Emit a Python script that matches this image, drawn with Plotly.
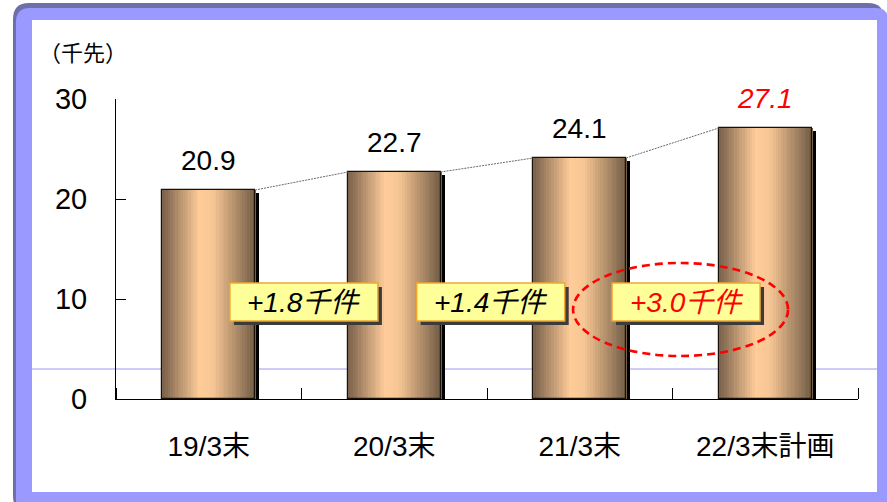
import plotly.graph_objects as go

# Data
categories = ["19/3末", "20/3末", "21/3末", "22/3末計画"]
values = [20.9, 22.7, 24.1, 27.1]
y_ticks = [0, 10, 20, 30]
unit_label = "（千先）"
diff_unit = "千件"

W, H = 887, 502
ML, MR, MT, MB = 116, 29, 99, 103
PW, PH = W - ML - MR, H - MT - MB

FONT = "Liberation Sans, Arial, Noto Sans CJK JP, sans-serif"
BAR_W = 0.5


def px_x(px):
    return (px - ML) / PW


def px_y(py):
    return (H - MB - py) / PH


def rounded_path(x0, y0, x1, y1, r):
    """Rounded rectangle in pixel coordinates -> SVG path in paper units."""
    def P(x, y):
        return f"{px_x(x):.5f},{px_y(y):.5f}"
    pts = [
        f"M {P(x0 + r, y0)}",
        f"L {P(x1 - r, y0)}",
        f"Q {P(x1, y0)} {P(x1, y0 + r)}",
        f"L {P(x1, y1 - r)}",
        f"Q {P(x1, y1)} {P(x1 - r, y1)}",
        f"L {P(x0 + r, y1)}",
        f"Q {P(x0, y1)} {P(x0, y1 - r)}",
        f"L {P(x0, y0 + r)}",
        f"Q {P(x0, y0)} {P(x0 + r, y0)} Z",
    ]
    return " ".join(pts)


def lerp_color(stops, t):
    for (t0, c0), (t1, c1) in zip(stops, stops[1:]):
        if t0 <= t <= t1:
            f = (t - t0) / (t1 - t0)
            c = [round(a + (b - a) * f) for a, b in zip(c0, c1)]
            return f"rgb({c[0]},{c[1]},{c[2]})"
    c = stops[-1][1]
    return f"rgb({c[0]},{c[1]},{c[2]})"


cyl_stops = [
    (0.0, (0x78, 0x60, 0x4A)),
    (0.40, (0xFF, 0xCC, 0x99)),
    (0.55, (0xF6, 0xC6, 0x94)),
    (1.0, (0x72, 0x5C, 0x45)),
]

x_pos = list(range(len(categories)))
fig = go.Figure()

# drop shadow of each cylinder (offset right / down)
sh_dx = 4 / (PW / len(categories))
sh_dy = 2.5 / (PH / 30)
fig.add_trace(go.Bar(
    x=x_pos, y=[v - sh_dy for v in values],
    width=BAR_W, offset=-BAR_W / 2 + sh_dx,
    marker=dict(color="black", line=dict(width=0)),
    hoverinfo="skip", showlegend=False,
))

# cylinder shading built from thin vertical strips
N = 36
sw = BAR_W / N
for k in range(N):
    t = (k + 0.5) / N
    fig.add_trace(go.Bar(
        x=x_pos, y=values,
        width=sw * 1.35, offset=-BAR_W / 2 + k * sw,
        marker=dict(color=lerp_color(cyl_stops, t), line=dict(width=0)),
        hoverinfo="skip", showlegend=False,
    ))

# outline
fig.add_trace(go.Bar(
    x=x_pos, y=values, width=BAR_W, offset=-BAR_W / 2,
    marker=dict(color="rgba(0,0,0,0)", line=dict(color="#1a1208", width=1.2)),
    hoverinfo="skip", showlegend=False,
))

# dotted connectors between bar tops
for i in range(len(values) - 1):
    fig.add_trace(go.Scatter(
        x=[x_pos[i] + BAR_W / 2, x_pos[i + 1] - BAR_W / 2],
        y=[values[i], values[i + 1]],
        mode="lines",
        line=dict(color="#6a6a6a", width=1, dash="2px,1px"),
        hoverinfo="skip", showlegend=False,
    ))

shapes = [
    # frame: dark rim, lavender band, white panel
    dict(type="path", xref="paper", yref="paper", layer="below",
         path=rounded_path(13, 3, 884, 512, 16),
         fillcolor="#6E6EA8", line=dict(width=0)),
    dict(type="path", xref="paper", yref="paper", layer="below",
         path=rounded_path(16, 8, 889, 514, 14),
         fillcolor="#9999FF", line=dict(width=0)),
    dict(type="rect", xref="paper", yref="paper", layer="below",
         x0=px_x(32), x1=px_x(877), y0=px_y(492), y1=px_y(20),
         fillcolor="white", line=dict(width=0)),
    dict(type="line", xref="paper", yref="paper", layer="below",
         x0=px_x(32), x1=px_x(877), y0=px_y(369), y1=px_y(369),
         line=dict(color="#9A9AF0", width=1)),
    # red dashed ellipse around the plan increment
    dict(type="circle", xref="x", yref="y", layer="above",
         x0=1.964, x1=3.123, y0=4.3, y1=13.6,
         line=dict(color="#FF0000", width=2.6, dash="8px,5px")),
]

annotations = []

# value labels above bars
for i, v in enumerate(values):
    last = i == len(values) - 1
    annotations.append(dict(
        x=x_pos[i], y=v, xref="x", yref="y", yshift=30,
        xanchor="center", yanchor="middle",
        text=f"<i>{v:.1f}</i>" if last else f"{v:.1f}",
        showarrow=False,
        font=dict(family=FONT, size=28, color="#FF0000" if last else "black"),
    ))

# increment boxes between bars
box_x = [0.513, 1.52, 2.573]
box_y = 9.7
for i in range(len(values) - 1):
    diff = values[i + 1] - values[i]
    red = i == len(values) - 2
    shapes.append(dict(
        type="rect", xref="x", yref="y", layer="above",
        xsizemode="pixel", ysizemode="pixel",
        xanchor=box_x[i], yanchor=box_y,
        x0=-74 + 4, x1=74 + 4, y0=-19 - 4, y1=19 - 4,
        fillcolor="#3c3c3c", line=dict(width=0)))
    shapes.append(dict(
        type="rect", xref="x", yref="y", layer="above",
        xsizemode="pixel", ysizemode="pixel",
        xanchor=box_x[i], yanchor=box_y,
        x0=-74, x1=74, y0=-19, y1=19,
        fillcolor="#FFFF99", line=dict(color="#F0A830", width=1.5)))
    annotations.append(dict(
        x=box_x[i], y=box_y, xref="x", yref="y",
        xanchor="center", yanchor="middle",
        text=f"<i>+{diff:.1f}{diff_unit}</i>",
        showarrow=False,
        font=dict(family=FONT, size=28, color="#FF0000" if red else "black"),
    ))

# unit label
annotations.append(dict(
    x=px_x(83), y=px_y(53), xref="paper", yref="paper",
    xanchor="center", yanchor="middle",
    text=unit_label, showarrow=False,
    font=dict(family=FONT, size=22, color="black"),
))

fig.update_layout(
    width=W, height=H, autosize=False,
    margin=dict(l=ML, r=MR, t=MT, b=MB, pad=0),
    paper_bgcolor="white", plot_bgcolor="rgba(0,0,0,0)",
    barmode="overlay", bargap=0, showlegend=False,
    font=dict(family=FONT, color="black"),
    shapes=shapes, annotations=annotations,
    xaxis=dict(
        range=[-0.5, len(categories) - 0.5],
        tickvals=x_pos, ticktext=categories, ticks="",
        tickfont=dict(family=FONT, size=28),
        ticklabelstandoff=22,
        showline=True, linecolor="black", linewidth=1,
        showgrid=False, zeroline=False, fixedrange=True,
        minor=dict(tickvals=[i - 0.5 for i in range(len(categories) + 1)],
                   ticks="inside", ticklen=11, tickcolor="black", tickwidth=1,
                   showgrid=False),
    ),
    yaxis=dict(
        range=[0, 30], tickvals=y_ticks,
        ticks="inside", ticklen=10, tickcolor="black", tickwidth=1,
        tickfont=dict(family=FONT, size=29),
        ticklabelstandoff=22,
        showline=True, linecolor="black", linewidth=1,
        showgrid=False, zeroline=False, fixedrange=True,
    ),
)

fig.write_html("out.html")
